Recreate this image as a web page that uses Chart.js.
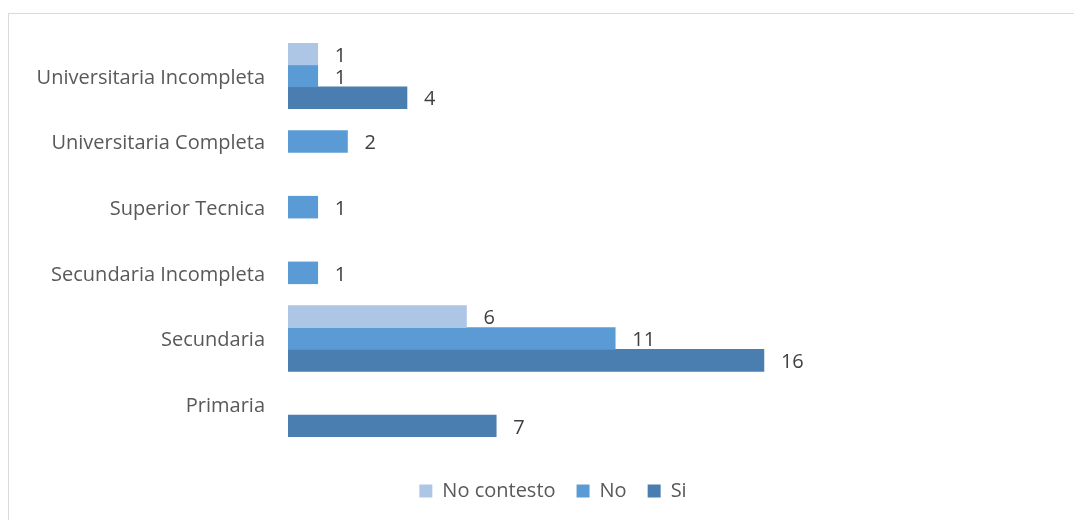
<!DOCTYPE html>
<html>
<head>
<meta charset="utf-8">
<script src="https://cdn.jsdelivr.net/npm/chart.js@4"></script>
<style>
  html, body { margin: 0; padding: 0; background: #fff; overflow: hidden; }
  #frame { position: absolute; left: 8px; top: 13px; width: 1200px; height: 600px; border: 1px solid #d9d9d9; }
  #wrap { position: absolute; left: 0; top: 0; width: 1120px; height: 520px; }
</style>
</head>
<body>
<div id="frame"></div>
<div id="wrap"><canvas id="chart" width="1120" height="520"></canvas></div>
<script>
/* Education level vs answer (No contesto / No / Si) */
var categories = ['Universitaria Incompleta', 'Universitaria Completa', 'Superior Tecnica',
                  'Secundaria Incompleta', 'Secundaria', 'Primaria'];
var seriesNames = ['No contesto', 'No', 'Si'];
var noContesto = [1, null, null, null, 6, null];
var no = [1, 2, 1, 1, 11, null];
var si = [4, null, null, null, 16, 7];

var colors = ['#adc6e5', '#5b9bd5', '#4a7eb0'];
var FONT = '"Open Sans"';

// value labels to the right of each bar
var valueLabels = {
  id: 'valueLabels',
  afterDatasetsDraw: function (chart) {
    var ctx = chart.ctx;
    ctx.save();
    ctx.font = '20px ' + FONT;
    ctx.fillStyle = '#404040';
    ctx.textAlign = 'left';
    ctx.textBaseline = 'middle';
    chart.data.datasets.forEach(function (ds, i) {
      var meta = chart.getDatasetMeta(i);
      meta.data.forEach(function (bar, j) {
        var v = ds.data[j];
        if (v === null || v === undefined) return;
        ctx.fillText(String(v), bar.x + 17, bar.y + 2);
      });
    });
    ctx.restore();
  }
};

new Chart(document.getElementById('chart'), {
  type: 'bar',
  data: {
    labels: categories,
    datasets: [
      { label: seriesNames[0], data: noContesto, backgroundColor: colors[0] },
      { label: seriesNames[1], data: no, backgroundColor: colors[1] },
      { label: seriesNames[2], data: si, backgroundColor: colors[2] }
    ]
  },
  options: {
    indexAxis: 'y',
    responsive: false,
    animation: false,
    categoryPercentage: 1,
    barPercentage: 1,
    layout: { padding: { left: 0, right: 14, top: 43, bottom: 9 } },
    plugins: {
      legend: {
        position: 'bottom',
        labels: { color: '#595959', font: { family: FONT, size: 20 }, boxWidth: 13, boxHeight: 13, padding: 21 }
      },
      tooltip: { enabled: false }
    },
    scales: {
      x: {
        min: 0, max: 27.5,
        grid: { display: false, drawTicks: false },
        border: { display: false },
        ticks: { display: false },
        afterFit: function (s) { s.height = 23; }
      },
      y: {
        grid: { display: false, drawTicks: false },
        border: { display: false },
        ticks: { color: '#595959', font: { family: FONT, size: 20 }, padding: 23, labelOffset: 2 },
        afterFit: function (s) { s.width = 288; }
      }
    }
  },
  plugins: [valueLabels]
});
</script>
</body>
</html>
